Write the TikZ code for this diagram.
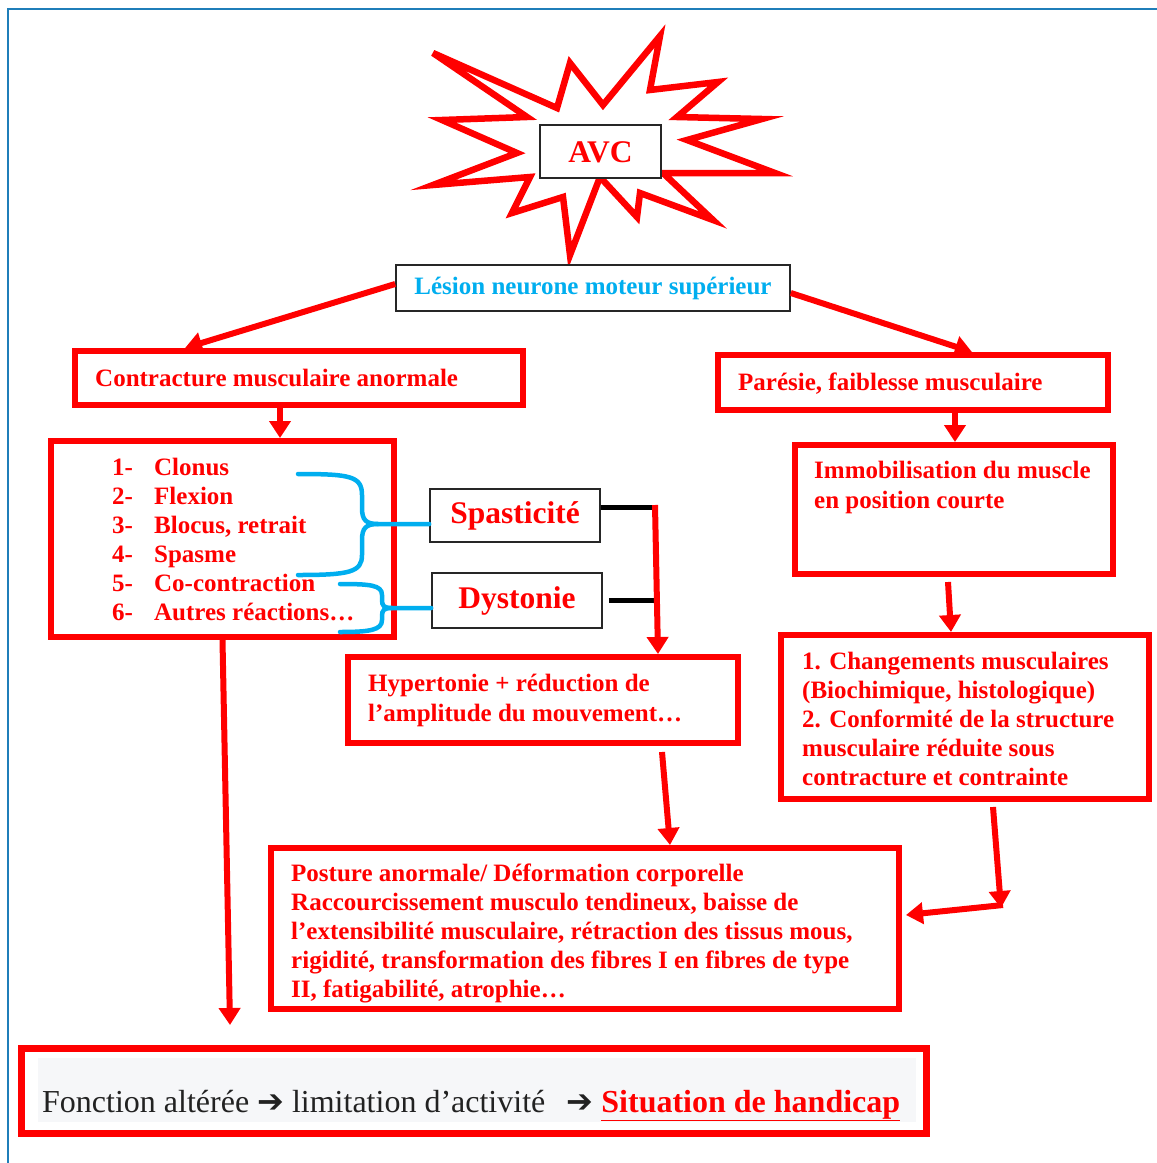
\documentclass[tikz,border=0pt]{standalone}
\usepackage{fontspec}
\setmainfont{Liberation Serif}
\newfontfamily\arrowfont{DejaVu Sans}
\usetikzlibrary{arrows.meta}
\definecolor{avcred}{HTML}{FF0000}
\definecolor{lesblue}{HTML}{00AEEF}
\definecolor{framblue}{HTML}{1F7EB9}
\definecolor{bandgray}{HTML}{F6F7F9}
\definecolor{txtgray}{HTML}{222222}

\begin{document}
\begin{tikzpicture}[x=1pt,y=-1pt,
  redbox/.style={draw=avcred,line width=6pt,inner sep=0pt},
  blackbox/.style={draw=black!85,line width=1.6pt,fill=white,inner sep=0pt},
  redtext/.style={anchor=north west,inner sep=0pt,align=left,text=avcred,
    font=\fontsize{25}{29}\selectfont\bfseries},
  bigtext/.style={text=avcred,font=\fontsize{31.5}{36}\selectfont\bfseries,text height=22pt,text depth=7pt},
  redarrow/.style={draw=avcred,line width=6pt,-{Triangle[width=21pt,length=17pt]}},
  stub/.style={draw=black,line width=5pt},
  brace/.style={draw=lesblue,line width=4.5pt,line cap=round}]
  \useasboundingbox (0,0) rectangle (1157,1163);
  \draw[framblue,line width=2pt] (8,1163) -- (8,9) -- (1157,9);

  % explosion
  \draw[avcred,line width=6.5pt] (433,53) -- (557,108) -- (570,63) -- (603,105) -- (660,36)
    -- (650,90) -- (718,82) -- (677,117) -- (762,119) -- (687,140) -- (775,173)
    -- (663,173) -- (713,220) -- (640,193) -- (637,217) -- (600,177) -- (570,255)
    -- (563,197) -- (512,213) -- (530,177) -- (433,185) -- (517,153) -- (442,120)
    -- (527,117) -- cycle;
  \node[blackbox,bigtext,minimum width=121pt,minimum height=53pt,text height=22pt,text depth=1pt] (avc) at (600.5,151.5) {AVC};
  \node[blackbox,minimum width=394pt,minimum height=46pt,text=lesblue,
    font=\fontsize{25}{29}\selectfont\bfseries,text height=17pt,text depth=5pt] (lesion) at (593,288) {Lésion neurone moteur supérieur};

  \node[redbox,minimum width=448pt,minimum height=54pt] (contr) at (299,378) {};
  \node[redtext] (contrtxt) at (95,365.7) {\strut Contracture musculaire anormale};
  \node[redbox,minimum width=390pt,minimum height=55pt] (paresie) at (913,382.5) {};
  \node[redtext] (paresietxt) at (738,369.7) {\strut Parésie, faiblesse musculaire};

  \node[redbox,minimum width=343pt,minimum height=196pt] (list) at (222.5,539) {};
  \node[redtext] (listtxt) at (112,454.7) {\strut\makebox[42pt][l]{1-}Clonus\\
    \makebox[42pt][l]{2-}Flexion\\ \makebox[42pt][l]{3-}Blocus, retrait\\
    \makebox[42pt][l]{4-}Spasme\\ \makebox[42pt][l]{5-}Co-contraction\\
    \makebox[42pt][l]{6-}Autres réactions…};
  \node[blackbox,bigtext,minimum width=170pt,minimum height=53pt] (spast) at (515,515.5) {Spasticité};
  \node[blackbox,bigtext,minimum width=170pt,minimum height=55pt] (dyst) at (517,600.5) {Dystonie};

  \node[redbox,minimum width=318pt,minimum height=129pt] (immob) at (954,509.5) {};
  \node[redtext,font=\fontsize{25}{30}\selectfont\bfseries] (immobtxt) at (814,457) {\strut Immobilisation du muscle\\ en position courte};
  \node[redbox,minimum width=390pt,minimum height=86pt] (hyper) at (543,700) {};
  \node[redtext,font=\fontsize{25}{30}\selectfont\bfseries] (hypertxt) at (368,670) {\strut Hypertonie + réduction de\\ l’amplitude du mouvement…};
  \node[redbox,minimum width=368pt,minimum height=164pt] (chang) at (965,717) {};
  \node[redtext] (changtxt) at (802,648.7) {\strut 1. Changements musculaires\\ (Biochimique, histologique)\\
    2. Conformité de la structure\\ musculaire réduite sous\\ contracture et contrainte};
  \node[redbox,minimum width=628pt,minimum height=161pt] (posture) at (585,928.5) {};
  \node[redtext] (posturetxt) at (291,860.7) {\strut Posture anormale/ Déformation corporelle\\
    Raccourcissement musculo tendineux, baisse de\\
    l’extensibilité musculaire, rétraction des tissus mous,\\
    rigidité, transformation des fibres I en fibres de type\\
    II, fatigabilité, atrophie…};

  \node[redbox,line width=7pt,minimum width=905pt,minimum height=85pt] (final) at (474,1091) {};
  \fill[bandgray] (38,1058) rectangle (916,1122);
  \node[anchor=base west,inner sep=0pt,text=txtgray,font=\fontsize{32}{38}\selectfont] (finaltxt) at (42,1112)
    {Fonction altérée {\arrowfont\bfseries ➔} limitation d’activité\ \ \,{\arrowfont\bfseries ➔} \textcolor{avcred}{\bfseries\underline{Situation de handicap}}};

  % braces
  \draw[brace] (298,474) .. controls (350,474) and (362,476) .. (362,495) -- (362,508)
    .. controls (362,520) and (366,524) .. (378,524) -- ([yshift=-8.5pt]spast.west);
  \draw[brace] (298,575) .. controls (350,575) and (362,572) .. (362,555) -- (362,540)
    .. controls (362,528) and (366,524) .. (378,524);
  \draw[brace] (340,584) .. controls (370,584) and (382,585) .. (382,595) -- (382,600)
    .. controls (382,606) and (384,608) .. (392,608) -- ([yshift=-7.5pt]dyst.west);
  \draw[brace] (340,632) .. controls (370,632) and (382,630) .. (382,620) -- (382,616)
    .. controls (382,610) and (384,608) .. (392,608);

  % connectors
  \coordinate (junc) at (655,507);
  \coordinate (bend) at (1001,908);
  \coordinate (lowtip) at (230,1025);
  \draw[stub] ([yshift=8.5pt]spast.east) -- (junc);
  \draw[stub] ([xshift=6pt]dyst.east) -- (junc |- dyst.east);
  \draw[redarrow] ([yshift=4pt]lesion.west) -- ([xshift=113pt]contr.north west);
  \draw[redarrow] ([yshift=-5pt]lesion.east) -- ([xshift=257pt]paresie.north west);
  \draw[redarrow] ([xshift=-19pt]contr.south) -- ([xshift=-19pt]contr.south |- list.north);
  \draw[redarrow] ([xshift=42pt]paresie.south) -- ([xshift=42pt]paresie.south |- immob.north);
  \draw[redarrow] ([xshift=-6pt,yshift=-5pt]immob.south) -- ([xshift=-14pt]chang.north);
  \draw[redarrow] ([yshift=2pt]junc) -- ([xshift=115pt]hyper.north);
  \draw[redarrow] ([xshift=119pt,yshift=-6pt]hyper.south) -- ([xshift=85pt]posture.north);
  \draw[redarrow] ([xshift=28pt,yshift=-5pt]chang.south) -- (bend);
  \draw[redarrow] ([xshift=2pt,yshift=3pt]bend) -- ([xshift=4pt,yshift=13.5pt]posture.east);
  \draw[redarrow] (list.south) -- (lowtip);
\end{tikzpicture}
\end{document}
